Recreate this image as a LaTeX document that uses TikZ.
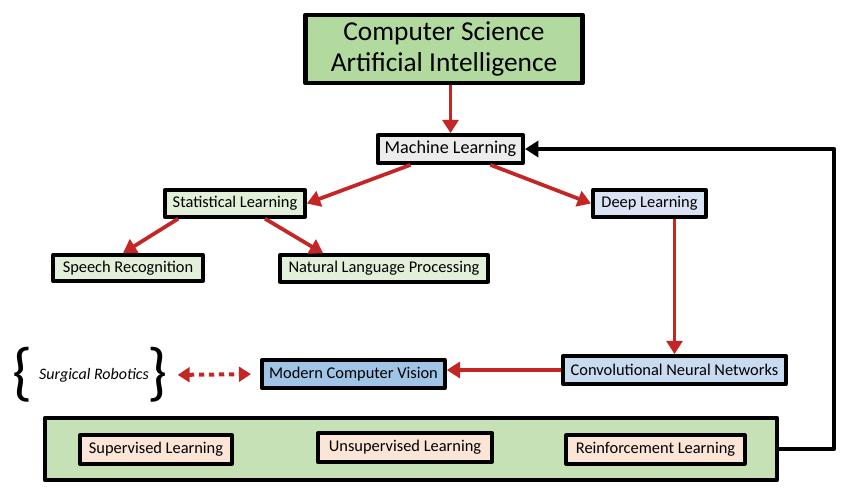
\documentclass[tikz,border=0pt]{standalone}
\usepackage{fontspec}
\setmainfont{Carlito}
\usetikzlibrary{arrows.meta,calc}
\definecolor{csgreen}{RGB}{178,218,158}
\definecolor{mlgray}{RGB}{236,236,236}
\definecolor{palegreen}{RGB}{226,240,217}
\definecolor{paleblue}{RGB}{218,227,243}
\definecolor{cnnblue}{RGB}{200,219,240}
\definecolor{visblue}{RGB}{160,196,230}
\definecolor{botgreen}{RGB}{199,225,182}
\definecolor{peach}{RGB}{251,229,214}
\definecolor{arrred}{RGB}{196,38,38}
\begin{document}
\begin{tikzpicture}[x=0.75pt, y=-0.75pt, line join=round,
    box/.style={draw=black, line width=2.8pt, inner sep=0pt, font=\fontsize{12.3}{14}\selectfont},
    brace/.style={inner sep=0pt, font=\fontsize{48}{48}\selectfont},
    redarr/.style={draw=arrred, line width=2.8pt, -{Triangle[length=10pt,width=12pt]}},
    dotarr/.style={draw=arrred, line width=3pt, dash pattern=on 4pt off 3.5pt,
        {Triangle[length=9pt,width=11pt]}-{Triangle[length=9pt,width=11pt]}, shorten <=7pt, shorten >=7pt}]
    \useasboundingbox (0,0) rectangle (846,496);
    % top of the tree
    \node[box, line width=3.5pt, fill=csgreen, minimum width=208pt, minimum height=51pt, align=center,
        font=\fontsize{20.5}{23}\selectfont] (cs) at (444,49) {Computer Science\\Artificial Intelligence};
    \node[box, fill=mlgray, minimum width=109pt, minimum height=21pt, font=\fontsize{13.6}{15}\selectfont]
        (ml) at (450.5,149) {Machine Learning};
    \node[box, fill=palegreen, minimum width=105pt, minimum height=20pt] (sl) at (235,203.5) {Statistical Learning};
    \node[box, fill=paleblue, minimum width=85pt, minimum height=20pt] (dl) at (649.5,203.5) {Deep Learning};
    \node[box, fill=palegreen, minimum width=112pt, minimum height=19.5pt] (sr) at (128,268) {Speech Recognition};
    \node[box, fill=palegreen, minimum width=156pt, minimum height=20pt] (nlp) at (384,268.5) {Natural Language Processing};
    \node[box, fill=cnnblue, minimum width=167pt, minimum height=21pt] (cnn) at (674.5,370) {Convolutional Neural Networks};
    \node[box, fill=visblue, minimum width=137pt, minimum height=21pt] (mcv) at (353.5,374) {Modern Computer Vision};
    \node[font=\fontsize{12}{14}\selectfont\itshape] (surg) at (94,375) {Surgical Robotics};
    \node[brace] (lb) at (23,375) {\{};
    \node[brace] (rb) at (158,375) {\}};
    % learning paradigms
    \node[box, line width=3.5pt, fill=botgreen, minimum width=549pt, minimum height=46.5pt] (bot) at (411,449) {};
    \node[box, fill=peach, minimum width=114pt, minimum height=21.5pt] (sup) at (156,449.5) {Supervised Learning};
    \node[box, fill=peach, minimum width=130.5pt, minimum height=21.5pt] (uns) at (405,447.5) {Unsupervised Learning};
    \node[box, fill=peach, minimum width=134pt, minimum height=21.5pt] (rl) at (655.5,449.5) {Reinforcement Learning};
    % connectors
    \draw[redarr] (cs.south -| ml.north) -- (ml.north);
    \draw[redarr] ($(ml.south)+(-40,0)$) -- (sl.east);
    \draw[redarr] ($(ml.south)+(40,0)$) -- (dl.west);
    \draw[redarr] ($(sl.south west)+(15,0)$) -- ($(sr.north)+(-5,0)$);
    \draw[redarr] ($(sl.south)+(30,0)$) -- ($(nlp.north west)+(45,0)$);
    \draw[redarr] (dl.south -| cnn.north) -- (cnn.north);
    \draw[redarr] (cnn.west) -- (cnn.west -| mcv.east);
    \draw[dotarr] (rb.east) -- (mcv.west);
    \draw[line width=2.8pt, -{Triangle[length=10pt,width=12pt]}] (bot.east) -- ++(55,0) |- (ml.east);
\end{tikzpicture}
\end{document}
